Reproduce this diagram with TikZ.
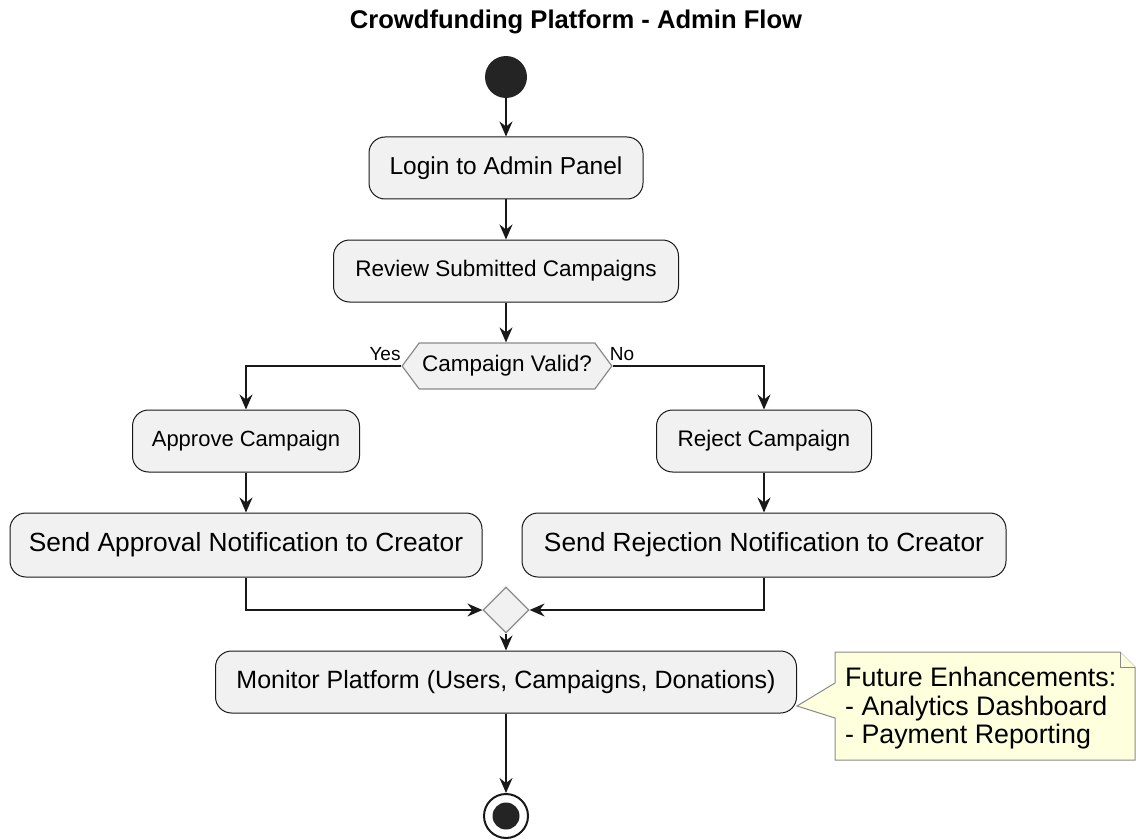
\documentclass[tikz,border=0pt]{standalone}
\usepackage{fontspec}
\setmainfont{Liberation Sans}
\usetikzlibrary{arrows.meta,shapes.geometric,shapes.symbols}
\definecolor{actfill}{HTML}{F1F1F1}
\definecolor{actline}{HTML}{181818}
\definecolor{notefill}{HTML}{FEFFDD}
\definecolor{softline}{HTML}{8A8A8A}
\tikzset{act/.style={draw=actline,fill=actfill,line width=1pt,rounded corners=16pt,
           minimum height=62pt,font=\fontsize{22.5}{27}\selectfont},
         wide/.style={font=\fontsize{#1}{30}\selectfont},
         wide/.default=26.3,
         test/.style={draw=softline,fill=actfill,line width=1.2pt,shape=signal,
           signal to=west and east,signal from=nowhere,signal pointer angle=107,
           minimum height=46pt,inner xsep=3pt,font=\fontsize{22.5}{27}\selectfont},
         merger/.style={draw=softline,fill=actfill,line width=1.2pt,diamond,
           minimum width=46pt,minimum height=46pt,inner sep=0pt},
         guard/.style={font=\fontsize{19}{22}\selectfont,inner sep=0pt},
         flow/.style={draw=actline,line width=1.5pt,
           -{Stealth[length=15pt,width=13pt,inset=5pt]}},
         x=1pt,y=-1pt}

\begin{document}
\begin{tikzpicture}
\useasboundingbox (0,0) rectangle (1136,840);
\node[font=\bfseries\fontsize{25.6}{30}\selectfont] (title) at (576,22) {Crowdfunding Platform - Admin Flow};
\node[circle,fill=actline!95,minimum size=42pt,inner sep=0pt] (start) at (506,77) {};
\node[act,wide=24.5,minimum width=274pt] (login) at (506,168) {Login to Admin Panel};
\node[act,minimum width=345pt] (review) at (506,271) {Review Submitted Campaigns};
\node[test] (valid) at (507,366) {Campaign Valid?};
\node[guard] (yes) at (385,354) {Yes};
\node[guard] (no) at (622,354) {No};
\node[act,font=\fontsize{22}{27}\selectfont,minimum width=227pt] (approve) at (246,441) {Approve Campaign};
\node[act,minimum width=215pt] (reject) at (764,441) {Reject Campaign};
\node[act,wide,minimum width=472pt,minimum height=64pt] (sendok) at (246,545) {Send Approval Notification to Creator};
\node[act,wide,minimum width=484pt,minimum height=64pt] (sendno) at (764,545) {Send Rejection Notification to Creator};
\node[merger] (merge) at (506,610) {};
\node[act,wide=25,minimum width=581pt] (monitor) at (506,682) {Monitor Platform (Users, Campaigns, Donations)};
\node[circle,draw=actline,line width=2pt,fill=white,minimum size=44pt,inner sep=0pt] (stop) at (506,816) {};
\node[circle,fill=actline!95,minimum size=27pt,inner sep=0pt] at (stop) {};

\draw[softline,fill=notefill,line width=1pt] (835,652) -- (1120,652) -- (1135,667) -- (1135,760)
  -- (835,760) -- (835,718) -- (797,706) -- (835,683) -- cycle;
\draw[softline,fill=notefill,line width=1pt] (1120,652) -- (1120,667) -- (1135,667);
\node[anchor=north west,align=left,inner sep=0pt,font=\fontsize{26.8}{28.5}\selectfont] (note) at (845,667)
  {Future Enhancements:\\- Analytics Dashboard\\- Payment Reporting};

\draw[flow] (start) -- (login);
\draw[flow] (login) -- (review);
\draw[flow] (review) -- (review |- valid.north);
\draw[flow] (valid.west) -| (approve);
\draw[flow] (valid.east) -| (reject);
\draw[flow] (approve) -- (sendok);
\draw[flow] (reject) -- (sendno);
\draw[flow] (sendok) |- (merge);
\draw[flow] (sendno) |- (merge);
\draw[flow] (merge) -- (monitor);
\draw[flow] (monitor) -- (stop);
\end{tikzpicture}
\end{document}
